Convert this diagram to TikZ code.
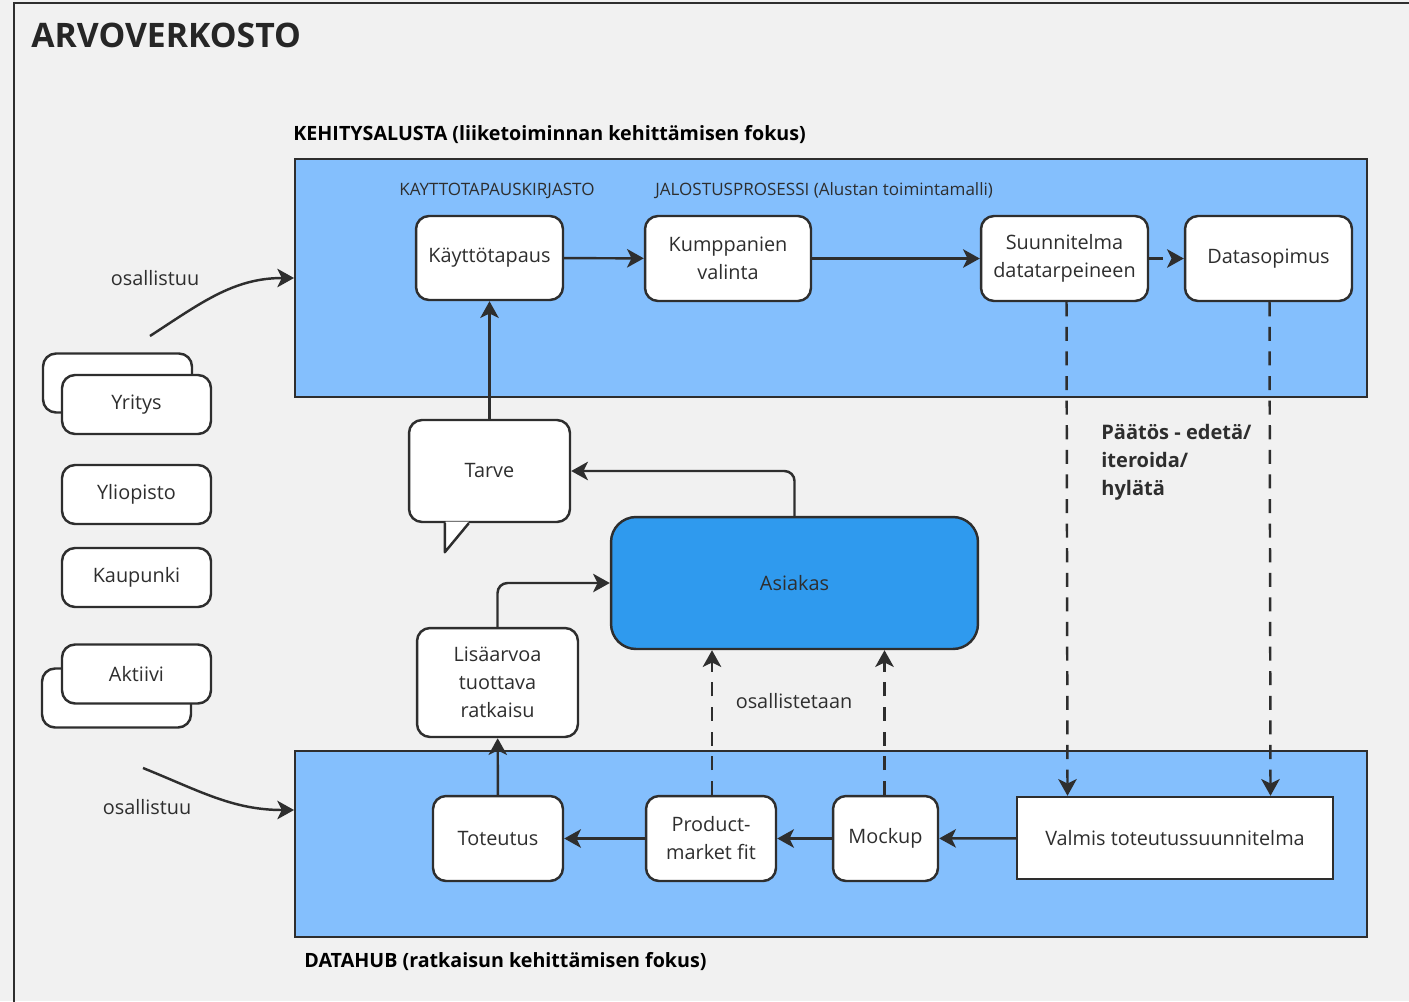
\documentclass[tikz,border=0pt]{standalone}
\usepackage{fontspec}
\setmainfont{Open Sans}
\usepackage{xcolor}
\usepackage{tikz}
\usetikzlibrary{arrows.meta,calc}
\definecolor{bgGray}{HTML}{F1F1F1}
\definecolor{panelBlue}{HTML}{84BFFD}
\definecolor{custBlue}{HTML}{2F9AEE}
\definecolor{inkGray}{HTML}{2E2E2E}
\tikzset{box/.style={draw=inkGray, fill=white, line width=1.4pt, rounded corners=0.26cm, align=center, inner sep=0pt, text=inkGray, font=\fontsize{11.3}{15.9}\selectfont},
panel/.style={draw=inkGray, fill=panelBlue, line width=1.2pt, inner sep=0pt},
flow/.style={draw=inkGray, line width=1.4pt, -{Stealth[length=9.5pt,width=10.5pt,inset=2.5pt]}},
dashflow/.style={flow, dash pattern=on 8pt off 6pt},
lbl/.style={text=inkGray, font=\fontsize{11.3}{15}\selectfont, inner sep=0pt},
%small headings inside the panels
caption/.style={text=inkGray, font=\fontsize{9.7}{12}\selectfont, inner sep=0pt, anchor=west},
heading/.style={text=black, font=\fontsize{11.2}{13}\selectfont\bfseries, inner sep=0pt, anchor=west}}

\begin{document}
\begin{tikzpicture}[x=0.02cm, y=-0.02cm]
\useasboundingbox (0,0) rectangle (1409,1001);
\fill[bgGray] (0,0) rectangle (1409,1001);
\draw[inkGray, line width=1.4pt] (14,1010) -- (14,3) -- (1420,3);
\node[anchor=west, inner sep=0pt, font=\fontsize{19.2}{22}\selectfont\bfseries, text=black!85] (title) at (31,35) {ARVOVERKOSTO};

% panels
\node[heading] (kehlbl) at (293,135) {KEHITYSALUSTA (liiketoiminnan kehittämisen fokus)};
\node[panel, minimum width=21.44cm, minimum height=4.76cm] (kehitys) at (831,278) {};
\node[panel, minimum width=21.44cm, minimum height=3.72cm] (datahub) at (831,844) {};
\node[heading] (dhlbl) at (304,962) {DATAHUB (ratkaisun kehittämisen fokus)};
\node[caption] (kirjasto) at (399,191) {KAYTTOTAPAUSKIRJASTO};
\node[caption] (jalostus) at (655,191) {JALOSTUSPROSESSI (Alustan toimintamalli)};

% top row
\node[box, minimum width=2.94cm, minimum height=1.68cm] (kayt) at (489.5,258) {Käyttötapaus};
\node[box, minimum width=3.32cm, minimum height=1.70cm] (kump) at (728,258.5) {Kumppanien\\valinta};
\node[box, minimum width=3.34cm, minimum height=1.70cm] (suun) at (1064.5,258.5) {Suunnitelma\\datatarpeineen};
\node[box, minimum width=3.34cm, minimum height=1.70cm] (dsop) at (1268.5,258.5) {Datasopimus};

% actors on the left
\node[box, minimum width=2.98cm, minimum height=1.18cm] (yritysb) at (117.5,383) {};
\node[box, minimum width=2.98cm, minimum height=1.18cm] (yritys) at (136.5,404.5) {Yritys};
\node[box, minimum width=2.98cm, minimum height=1.18cm] (yliopisto) at (136.5,494.5) {Yliopisto};
\node[box, minimum width=2.98cm, minimum height=1.18cm] (kaupunki) at (136.5,577.5) {Kaupunki};
\node[box, minimum width=2.98cm, minimum height=1.18cm] (aktiivib) at (116.5,698) {};
\node[box, minimum width=2.98cm, minimum height=1.18cm] (aktiivi) at (136.5,674) {Aktiivi};

% middle
\node[box, minimum width=3.22cm, minimum height=2.04cm] (tarve) at (489.5,471) {Tarve};
\coordinate (tailL) at ($(tarve.south west)+(37,0)$);
\coordinate (tailR) at ($(tarve.south west)+(61,0)$);
\coordinate (tailTip) at ($(tarve.south west)+(37,29)$);
\fill[white] ($(tailL)+(0.8,-1.5)$) -- ($(tailR)+(0,-1.5)$) -- (tailTip) -- cycle;
\draw[inkGray, line width=1.4pt, line join=round] (tailL) -- (tailTip) -- (tailR);
\node[box, fill=custBlue, rounded corners=0.5cm, minimum width=7.34cm, minimum height=2.64cm] (asiakas) at (794.5,583) {Asiakas};
\node[box, minimum width=3.22cm, minimum height=2.18cm] (lisa) at (497.5,682.5) {Lisäarvoa\\tuottava\\ratkaisu};

% bottom row
\node[box, minimum width=2.60cm, minimum height=1.70cm] (tot) at (498,838.5) {Toteutus};
\node[box, minimum width=2.60cm, minimum height=1.70cm] (pmf) at (711,838.5) {Product-\\market fit};
\node[box, minimum width=2.10cm, minimum height=1.70cm] (mockup) at (885.5,838.5) {Mockup};
\node[box, rounded corners=0pt, minimum width=6.32cm, minimum height=1.64cm] (valmis) at (1175,838) {Valmis toteutussuunnitelma};

% labels
\node[lbl] (osa1) at (155,278) {osallistuu};
\node[lbl] (osa2) at (147,807) {osallistuu};
\node[lbl] (osallistetaan) at (794,701) {osallistetaan};
\node[lbl, anchor=north west, align=left, font=\fontsize{11.4}{15.9}\selectfont\bfseries] (paatos) at (1101,424) {Päätös - edetä/\\iteroida/\\hylätä};

% connectors
\coordinate (osa1start) at (150,336);
\coordinate (osa2start) at (143,768);
\draw[flow] (osa1start) to[out=33, in=180] (kehitys.west);
\draw[flow] (osa2start) to[out=-22, in=180] ($(datahub.west)+(0,-34)$);
\draw[flow] (kayt) -- (kump);
\draw[flow] (kump) -- (suun);
\draw[dashflow] (suun) -- (dsop);
\draw[dashflow] ($(suun.south)+(2,0)$) -- ($(suun.south |- valmis.north)+(3,0)$);
\draw[dashflow] ($(dsop.south)+(1,0)$) -- ($(dsop.south |- valmis.north)+(2,0)$);
\draw[flow] (tarve) -- (kayt);
\draw[flow, rounded corners=0.2cm] (asiakas.north) |- (tarve.east);
\draw[flow, rounded corners=0.2cm] (lisa.north) |- (asiakas.west);
\draw[flow] (valmis) -- (mockup);
\draw[flow] (mockup) -- (pmf);
\draw[flow] (pmf) -- (tot);
\draw[flow] (tot) -- (lisa);
\draw[dashflow] ($(pmf.north)+(1,0)$) -- ($(pmf.north |- asiakas.south)+(1,0)$);
\draw[dashflow] ($(mockup.north)+(-1,0)$) -- ($(mockup.north |- asiakas.south)+(-1,0)$);
\end{tikzpicture}
\end{document}
